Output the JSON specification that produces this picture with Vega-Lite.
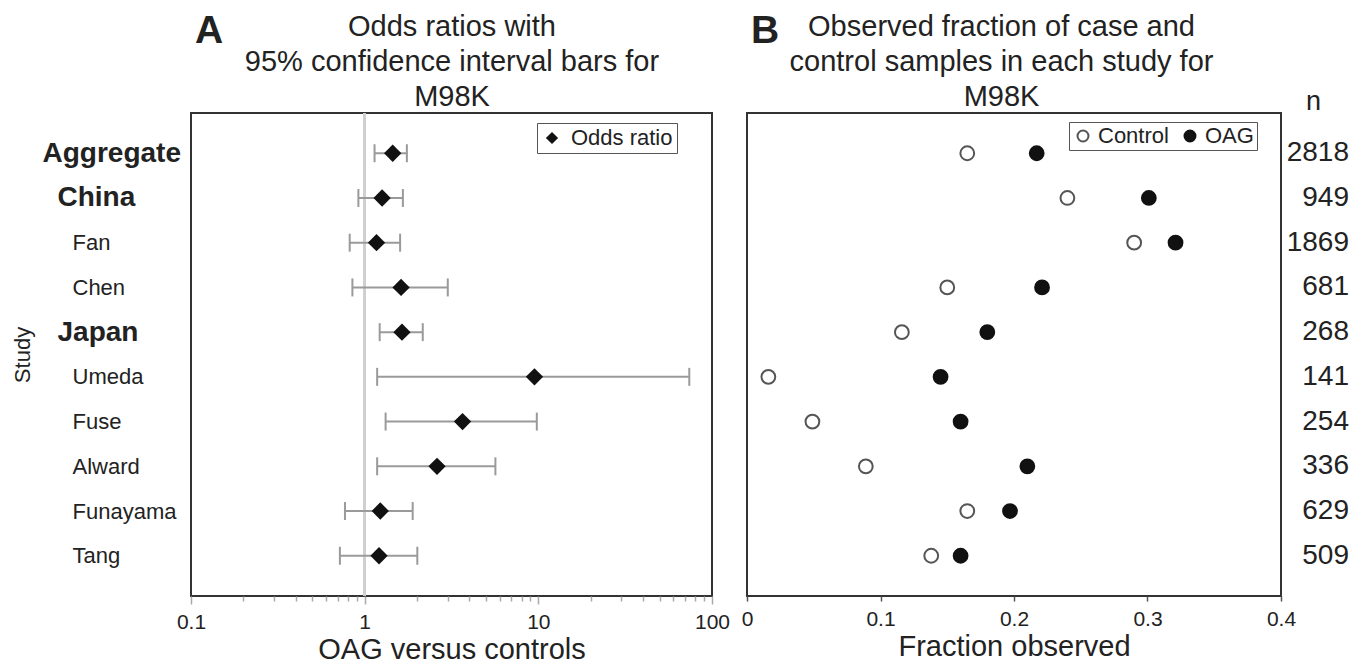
{
  "$schema": "https://vega.github.io/schema/vega-lite/v6.json",
  "padding": {"left": 10, "top": 11, "right": 5, "bottom": 0},
  "datasets": {
    "studies": [
      {"study": "Aggregate", "or": 1.45, "lo": 1.14, "hi": 1.75, "Control": 0.165, "OAG": 0.217, "n": 2818},
      {"study": "China", "or": 1.26, "lo": 0.92, "hi": 1.66, "Control": 0.240, "OAG": 0.301, "n": 949},
      {"study": "Fan", "or": 1.17, "lo": 0.82, "hi": 1.60, "Control": 0.290, "OAG": 0.321, "n": 1869},
      {"study": "Chen", "or": 1.62, "lo": 0.85, "hi": 3.01, "Control": 0.150, "OAG": 0.221, "n": 681},
      {"study": "Japan", "or": 1.64, "lo": 1.22, "hi": 2.16, "Control": 0.116, "OAG": 0.180, "n": 268},
      {"study": "Umeda", "or": 9.5, "lo": 1.18, "hi": 74, "Control": 0.016, "OAG": 0.145, "n": 141},
      {"study": "Fuse", "or": 3.66, "lo": 1.32, "hi": 9.8, "Control": 0.049, "OAG": 0.160, "n": 254},
      {"study": "Alward", "or": 2.61, "lo": 1.18, "hi": 5.66, "Control": 0.089, "OAG": 0.210, "n": 336},
      {"study": "Funayama", "or": 1.23, "lo": 0.77, "hi": 1.89, "Control": 0.165, "OAG": 0.197, "n": 629},
      {"study": "Tang", "or": 1.21, "lo": 0.72, "hi": 2.01, "Control": 0.138, "OAG": 0.160, "n": 509}
    ]
  },
  "data": {"name": "studies"},
  "spacing": 35,
  "bounds": "flush",
  "hconcat": [
    {
      "width": 521,
      "height": 483,
      "title": {"text": "A", "anchor": "start", "frame": "group", "fontSize": 39, "fontWeight": "bold", "baseline": "top", "offset": -39, "dx": 4},
      "layer": [
        {
          "mark": {"type": "rule", "color": "#cfcfcf", "strokeWidth": 2},
          "encoding": {
            "x": {
              "datum": 1, "type": "quantitative",
              "scale": {"type": "log", "domain": [0.1, 100]},
              "axis": {
                "orient": "top",
                "title": ["Odds ratios with", "95% confidence interval bars for", "M98K"],
                "titleFontSize": 29, "titleFontWeight": "normal", "titleLineHeight": 35, "titlePadding": 2,
                "labels": false, "ticks": false, "domain": false, "grid": false
              }
            }
          }
        },
        {
          "encoding": {
            "y": {
              "field": "study", "type": "nominal",
              "sort": ["Aggregate", "China", "Fan", "Chen", "Japan", "Umeda", "Fuse", "Alward", "Funayama", "Tang"],
              "scale": {"type": "point", "padding": 0.9},
              "axis": {
                "orient": "left", "title": "Study", "titleFontSize": 22, "titlePadding": 8,
                "ticks": false, "tickSize": 0, "domain": false, "labelAlign": "left", "labelLimit": 0,
                "labelFontSize": {"condition": {"test": "indexof(['Aggregate','China','Japan'], datum.value) >= 0", "value": 28}, "value": 22},
                "labelFontWeight": {"condition": {"test": "indexof(['Aggregate','China','Japan'], datum.value) >= 0", "value": "bold"}, "value": "normal"},
                "labelPadding": {"condition": [{"test": "datum.value == 'Aggregate'", "value": 149}, {"test": "datum.value == 'China' || datum.value == 'Japan'", "value": 134}], "value": 119}
              }
            }
          },
          "layer": [
            {
              "mark": {"type": "rule", "color": "#9a9a9a", "strokeWidth": 2},
              "encoding": {
                "x": {
                  "field": "lo", "type": "quantitative", "title": "OAG versus controls",
                  "scale": {"type": "log", "domain": [0.1, 100]},
                  "axis": {
                    "orient": "bottom", "titleFontSize": 29, "titlePadding": 3,
                    "labelFontSize": 21, "labelPadding": 7, "labelFlush": false, "labelOverlap": false,
                    "tickColor": "#aaaaaa", "tickWidth": 1.5,
                    "tickSize": {"condition": {"test": "datum.value == 0.1 || datum.value == 1 || datum.value == 10 || datum.value == 100", "value": 8}, "value": 5},
                    "labelExpr": "(datum.value == 0.1 || datum.value == 1 || datum.value == 10 || datum.value == 100) ? format(datum.value, '~g') : ''"
                  }
                },
                "x2": {"field": "hi"}
              }
            },
            {
              "mark": {"type": "tick", "color": "#9a9a9a", "size": 18, "thickness": 2, "opacity": 1},
              "encoding": {"x": {"field": "lo", "type": "quantitative", "title": "OAG versus controls", "scale": {"type": "log", "domain": [0.1, 100]}}}
            },
            {
              "mark": {"type": "tick", "color": "#9a9a9a", "size": 18, "thickness": 2, "opacity": 1},
              "encoding": {"x": {"field": "hi", "type": "quantitative", "title": "OAG versus controls", "scale": {"type": "log", "domain": [0.1, 100]}}}
            },
            {
              "mark": {"type": "point", "filled": true, "color": "#111111", "size": 300, "opacity": 1},
              "encoding": {
                "x": {"field": "or", "type": "quantitative", "title": "OAG versus controls", "scale": {"type": "log", "domain": [0.1, 100]}},
                "shape": {
                  "datum": "Odds ratio", "type": "nominal",
                  "scale": {"range": ["diamond"]},
                  "legend": {
                    "orient": "none", "legendX": 346, "legendY": 10, "title": null,
                    "labelFontSize": 22, "labelOffset": 8, "symbolFillColor": "#111111", "symbolStrokeColor": "#111111",
                    "symbolSize": 150, "strokeColor": "#555555", "fillColor": "white", "padding": 4
                  }
                }
              }
            }
          ]
        }
      ],
      "resolve": {"axis": {"x": "independent"}}
    },
    {
      "width": 534,
      "height": 483,
      "title": {"text": "B", "anchor": "start", "frame": "group", "fontSize": 39, "fontWeight": "bold", "baseline": "top", "offset": -39, "dx": 4},
      "transform": [{"fold": ["Control", "OAG"], "as": ["group", "frac"]}],
      "encoding": {
        "y": {
          "field": "study", "type": "nominal",
          "sort": ["Aggregate", "China", "Fan", "Chen", "Japan", "Umeda", "Fuse", "Alward", "Funayama", "Tang"],
          "scale": {"type": "point", "padding": 0.9},
          "axis": null
        },
        "fill": {
          "field": "group", "type": "nominal",
          "scale": {"domain": ["Control", "OAG"], "range": ["white", "#111111"]},
          "legend": {
            "orient": "none", "legendX": 878, "legendY": 9, "title": null, "direction": "horizontal",
            "labelFontSize": 22, "symbolSize": 120, "symbolStrokeWidth": 2, "strokeColor": "#555555",
            "fillColor": "white", "padding": 3, "columnPadding": 10
          }
        },
        "stroke": {
          "field": "group", "type": "nominal",
          "scale": {"domain": ["Control", "OAG"], "range": ["#555555", "#111111"]},
          "legend": {
            "orient": "none", "legendX": 878, "legendY": 9, "title": null, "direction": "horizontal",
            "labelFontSize": 22, "symbolSize": 120, "symbolStrokeWidth": 2, "strokeColor": "#555555",
            "fillColor": "white", "padding": 3, "columnPadding": 10
          }
        }
      },
      "layer": [
        {
          "transform": [{"filter": "datum.group == 'Control'"}],
          "mark": {"type": "point", "size": 190, "strokeWidth": 2, "opacity": 1},
          "encoding": {
            "x": {
              "field": "frac", "type": "quantitative",
              "scale": {"domain": [0, 0.4], "nice": false},
              "axis": {
                "orient": "top",
                "title": ["Observed fraction of case and", "control samples in each study for", "M98K"],
                "titleFontSize": 29, "titleFontWeight": "normal", "titleLineHeight": 35, "titlePadding": 2, "titleX": 254,
                "labels": false, "ticks": false, "domain": false, "grid": false
              }
            }
          }
        },
        {
          "transform": [{"filter": "datum.group == 'OAG'"}],
          "mark": {"type": "point", "size": 190, "strokeWidth": 2, "opacity": 1},
          "encoding": {
            "x": {
              "field": "frac", "type": "quantitative",
              "scale": {"domain": [0, 0.4], "nice": false},
              "axis": {
                "orient": "bottom", "title": "Fraction observed", "titleFontSize": 29, "titlePadding": 3,
                "values": [0, 0.1, 0.2, 0.3, 0.4], "format": "~g",
                "labelFontSize": 21, "labelPadding": 7, "labelFlush": false,
                "tickColor": "#555555", "tickSize": 5, "tickWidth": 1.5, "grid": false, "domain": false
              }
            }
          }
        }
      ],
      "resolve": {"axis": {"x": "independent"}}
    },
    {
      "width": 40,
      "height": 483,
      "view": {"stroke": null},
      "title": {"text": "n", "anchor": "start", "frame": "group", "fontSize": 27, "fontWeight": "normal", "dx": -10, "offset": -3},
      "mark": {"type": "text", "align": "right", "baseline": "middle", "dx": 13, "fontSize": 28, "color": "#222222"},
      "encoding": {
        "y": {
          "field": "study", "type": "nominal",
          "sort": ["Aggregate", "China", "Fan", "Chen", "Japan", "Umeda", "Fuse", "Alward", "Funayama", "Tang"],
          "scale": {"type": "point", "padding": 0.9},
          "axis": null
        },
        "text": {"field": "n", "type": "nominal"}
      }
    }
  ],
  "config": {
    "font": "Liberation Sans",
    "view": {"stroke": "#333333", "strokeWidth": 2},
    "title": {"color": "#222222", "font": "Liberation Sans"},
    "axis": {"labelColor": "#222222", "titleColor": "#222222", "titleFontWeight": "normal", "grid": false, "domain": false, "labelFont": "Liberation Sans", "titleFont": "Liberation Sans"},
    "legend": {"labelColor": "#222222", "labelFont": "Liberation Sans"}
  }
}
